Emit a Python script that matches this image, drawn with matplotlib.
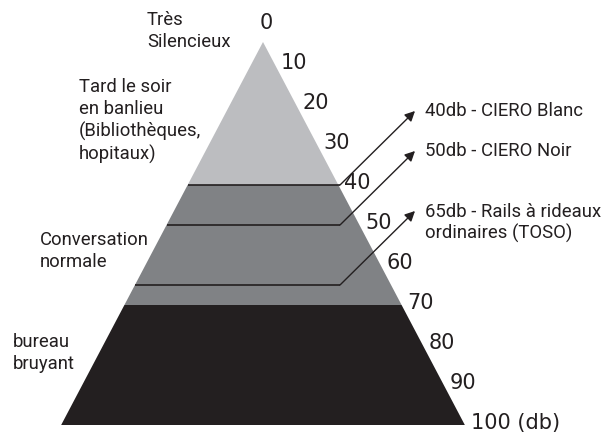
import matplotlib.pyplot as plt
from matplotlib.patches import Polygon

plt.rcParams['font.family'] = ['Roboto', 'DejaVu Sans']

# noise scale (db) and tick labels
db_ticks = [0, 10, 20, 30, 40, 50, 60, 70, 80, 90, 100]
tick_labels = ['0', '10', '20', '30', '40', '50', '60', '70', '80', '90', '100 (db)']

# colour bands of the pyramid
band_edges = [0, 40, 70, 100]
band_colors = ['#bcbdc0', '#808285', '#231f20']

# products marked with a line and an arrow
product_db = [40, 50, 65]
product_labels = ['40db - CIERO Blanc', '50db - CIERO Noir',
                  '65db - Rails à rideaux\nordinaires (TOSO)']

# zone descriptions on the left
zone_db = [1.5, 24, 56.5, 82]
zone_labels = ['Très\nSilencieux',
               'Tard le soir\nen banlieu\n(Bibliothèques,\nhopitaux)',
               'Conversation\nnormale',
               'bureau\nbruyant']
zone_x = [147, 79, 40, 13]

ink = '#231f20'
cx = 263          # pyramid centre (px)
apex_db = 4.25    # where the sides meet
slope = 2.108     # half-width growth per db


def half_width(db):
    return (db - apex_db) * slope


fig = plt.figure(figsize=(6.14, 4.32), dpi=100)
ax = fig.add_axes([0, 0, 1, 1])
ax.set_xlim(0, 614)
ax.set_ylim(101.75, -6.25)
ax.axis('off')

for top, bottom, col in zip(band_edges[:-1], band_edges[1:], band_colors):
    t = max(top, apex_db)
    pts = [(cx - half_width(t), t), (cx + half_width(t), t),
           (cx + half_width(bottom), bottom), (cx - half_width(bottom), bottom)]
    ax.add_patch(Polygon(pts, closed=True, facecolor=col, edgecolor='none'))

for db, lab in zip(db_ticks, tick_labels):
    ax.text(cx + half_width(db) + 6, db - 0.6, lab, fontsize=15, color=ink,
            ha='left', va='center', family='DejaVu Sans')

line_end = 340
for db, lab in zip(product_db, product_labels):
    ax.plot([cx - half_width(db), line_end], [db, db], color=ink, lw=1.2,
            solid_capstyle='butt')
    tip = (line_end + 75, db - 18.5)
    ax.annotate('', xy=tip, xytext=(line_end, db),
                arrowprops=dict(arrowstyle='-|>', color=ink, lw=1.0,
                                mutation_scale=15, shrinkA=0, shrinkB=0))
    ty = tip[1] + (3.0 if '\n' in lab else 0)
    ax.text(tip[0] + 10, ty, lab, fontsize=13.3, color=ink,
            ha='left', va='center', linespacing=1.25)

for db, lab, x in zip(zone_db, zone_labels, zone_x):
    ax.text(x, db, lab, fontsize=13.3, color=ink, ha='left', va='center',
            linespacing=1.25)

fig.savefig('out.png', dpi=100)
